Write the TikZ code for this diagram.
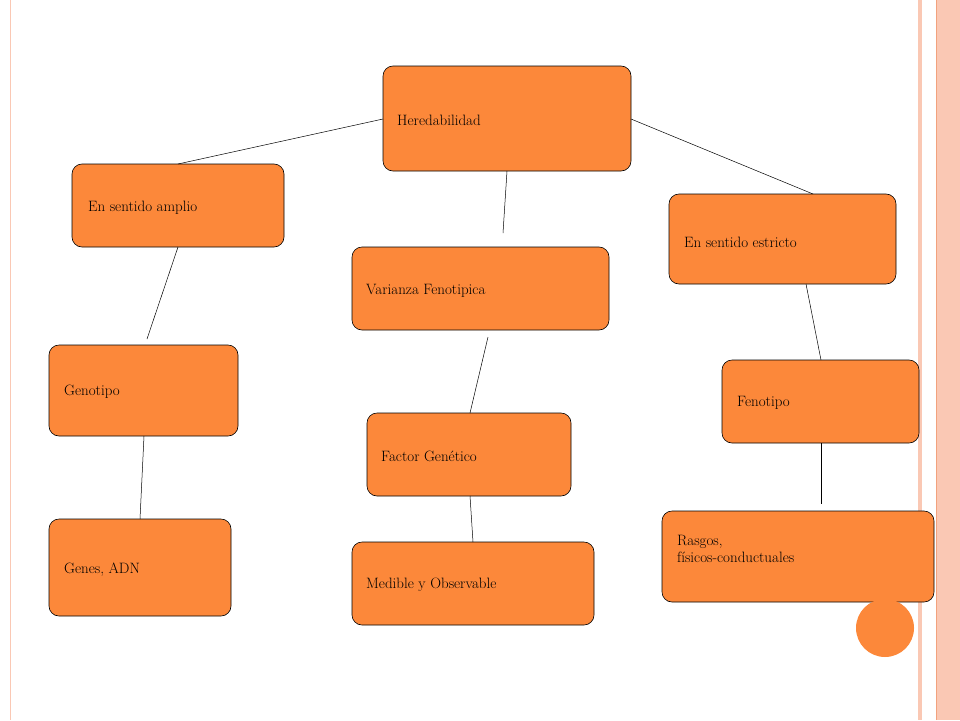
\documentclass[tikz,border=0pt]{standalone}
\begin{document}
\begin{tikzpicture}[x=1pt,y=-1pt,
  bx/.style={draw=black,fill=boxor,rounded corners=10pt,line width=0.6pt},
  lb/.style={anchor=west,font=\fontsize{15}{17}\selectfont,inner sep=0pt,align=left},
  ln/.style={draw=black,line width=0.5pt}]
\definecolor{boxor}{HTML}{FC883A}
\definecolor{salm}{HTML}{FAC8B4}
\definecolor{deepor}{HTML}{F2A27E}
\useasboundingbox (0,0) rectangle (960,720);
\fill[white] (0,0) rectangle (960,720);
\fill[salm] (918,0) rectangle (922,720);
\fill[salm] (937,0) rectangle (960,720);
\draw[deepor,line width=1pt] (936,0) -- (936,720);
\draw[salm,line width=0.8pt] (10,0) -- (10,720);
% boxes
\draw[bx] (383,66) rectangle (631,171);
\draw[bx] (72,164) rectangle (284,247);
\draw[bx] (352,247) rectangle (609,330);
\draw[bx] (669,194) rectangle (896,284);
\draw[bx] (49,345) rectangle (238,436);
\draw[bx] (722,360) rectangle (919,443);
\draw[bx] (367,413) rectangle (571,496);
\draw[bx] (49,519) rectangle (231,616);
\draw[bx] (352,542) rectangle (594,625);
\draw[bx] (662,511) rectangle (934,602);
\fill[boxor] (885,628) circle (29);
% labels
\node[lb] (h) at (397,120) {Heredabilidad};
\node[lb] (a) at (88,208) {En sentido amplio};
\node[lb] (v) at (366,291) {Varianza Fenotipica};
\node[lb] (e) at (684,242) {En sentido estricto};
\node[lb] (g) at (64,392) {Genotipo};
\node[lb] (f) at (737,403) {Fenotipo};
\node[lb] (fg) at (381,456) {Factor Genético};
\node[lb] (ga) at (64,570) {Genes, ADN};
\node[lb] (m) at (366,585) {Medible y Observable};
\node[lb,anchor=north west] (r) at (677,535) {Rasgos,\\físicos-conductuales};
% connectors
\coordinate (c1a) at (383,119); \coordinate (c1b) at (178,164);
\coordinate (c2a) at (507,171); \coordinate (c2b) at (503,233);
\coordinate (c3a) at (631,119); \coordinate (c3b) at (813,194);
\coordinate (c4a) at (178,247); \coordinate (c4b) at (147,339);
\coordinate (c5a) at (806,284); \coordinate (c5b) at (821,360);
\coordinate (c6a) at (488,337); \coordinate (c6b) at (470,413);
\coordinate (c7a) at (144,436); \coordinate (c7b) at (140,519);
\coordinate (c8a) at (470,496); \coordinate (c8b) at (473,542);
\coordinate (c9a) at (821,443); \coordinate (c9b) at (821,504);
\foreach \i in {1,...,9} \draw[ln] (c\i a) -- (c\i b);
\end{tikzpicture}
\end{document}
